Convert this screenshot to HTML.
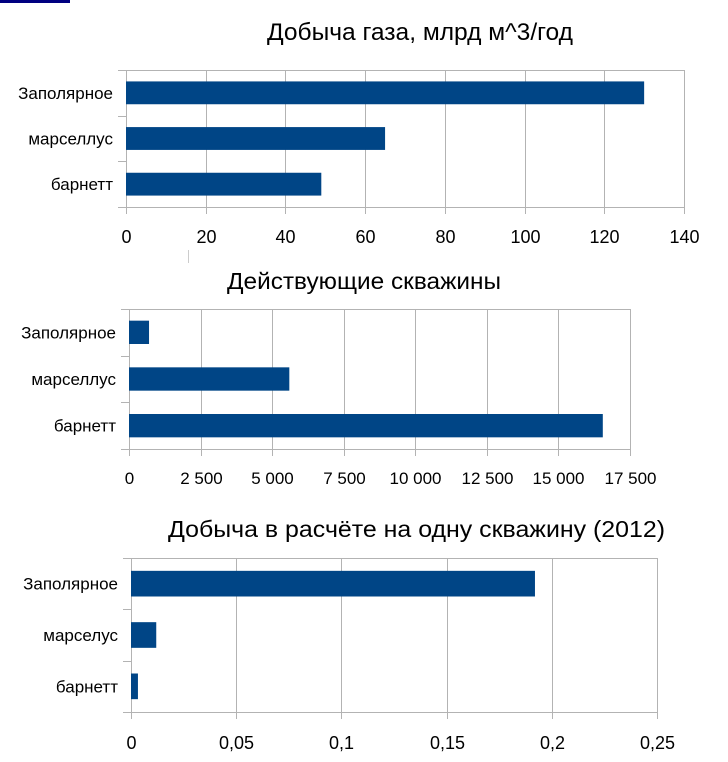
<!DOCTYPE html>
<html><head><meta charset="utf-8"><style>
html,body{margin:0;padding:0;background:#fff;}
svg{display:block;font-family:"Liberation Sans","DejaVu Sans",sans-serif;}
</style></head><body>
<svg id="root" width="728" height="762" viewBox="0 0 728 762">
<rect x="0" y="0" width="70" height="3" fill="#000080"/>
<line x1="188.5" y1="250" x2="188.5" y2="263" stroke="#ccc"/>
</svg>
<script>
const categories = ["Заполярное", "марселлус", "барнетт"];
const categories3 = ["Заполярное", "марселус", "барнетт"];
const gasValues = [130, 65, 49];
const gasTicks = ["0","20","40","60","80","100","120","140"];
const wellValues = [700, 5600, 16550];
const wellTicks = ["0","2 500","5 000","7 500","10 000","12 500","15 000","17 500"];
const perWellValues = [0.192, 0.012, 0.0033];
const perWellTicks = ["0","0,05","0,1","0,15","0,2","0,25"];
const titles = ["Добыча газа, млрд м^3/год", "Действующие скважины", "Добыча в расчёте на одну скважину (2012)"];

const NS = "http://www.w3.org/2000/svg";
const root = document.getElementById("root");
function mk(tag, attrs, parent) {
  const e = document.createElementNS(NS, tag);
  for (const k in attrs) e.setAttribute(k, attrs[k]);
  (parent || root).appendChild(e);
  return e;
}
function chart(cfg, id) {
  const g = mk("g", {});
  
  
  const n = cfg.ticks.length - 1;
  const xs = v => cfg.x0 + (v / cfg.max) * (cfg.x1 - cfg.x0);
  const rowH = (cfg.y1 - cfg.y0) / cfg.cats.length;
  const t = mk("text", {x: cfg.tx, y: cfg.ty, "font-size": cfg.tfs, textLength: cfg.tw, lengthAdjust: "spacingAndGlyphs", fill: "#000"}, g);
  t.textContent = cfg.title;
  
  
  for (let i = 0; i <= n; i++) {
    const x = Math.round(cfg.x0 + i * (cfg.x1 - cfg.x0) / n) + 0.5;
    const gl = mk("line", {x1: x, y1: cfg.y0, x2: x, y2: cfg.y1 + 7, stroke: "#b3b3b3", "stroke-width": 1}, g);
    
    
    const tl = mk("text", {x: x, y: cfg.lb, "font-size": cfg.lfs, "text-anchor": "middle", fill: "#000"}, g);
    tl.textContent = cfg.ticks[i];
    
    
  }
  for (let j = 0; j <= cfg.cats.length; j++) {
    const y = Math.round(cfg.y0 + j * rowH) + 0.5;
    const hl = mk("line", {x1: cfg.x0 - 8, y1: y, x2: j === 0 || j === cfg.cats.length ? cfg.x1 : cfg.x0, y2: y, stroke: "#b3b3b3"}, g);
    
    
  }
  cfg.cats.forEach((c, j) => {
    const cy = cfg.y0 + (j + 0.5) * rowH;
    const bh = rowH * 0.5;
    const b = mk("rect", {x: cfg.x0, y: cy - bh / 2, width: xs(cfg.vals[j]) - cfg.x0, height: bh, fill: "#004586"}, g);
    
    
    const l = mk("text", {x: cfg.x0 - 13, y: cy + 6, "font-size": 17, "text-anchor": "end", fill: "#000"}, g);
    l.textContent = c;
    
    
  });
}
chart({title: titles[0], tx: 267, ty: 40, tfs: 24, tw: 306, x0: 126, x1: 684, y0: 70, y1: 207, max: 140, ticks: gasTicks, vals: gasValues, cats: categories, lb: 243, lfs: 18}, "gas-production");
chart({title: titles[1], tx: 227, ty: 289, tfs: 23, tw: 274, x0: 129, x1: 630, y0: 309, y1: 449, max: 17500, ticks: wellTicks, vals: wellValues, cats: categories, lb: 484, lfs: 17}, "active-wells");
chart({title: titles[2], tx: 168, ty: 537, tfs: 23, tw: 497, x0: 131, x1: 657, y0: 558, y1: 712, max: 0.25, ticks: perWellTicks, vals: perWellValues, cats: categories3, lb: 749, lfs: 18}, "per-well");
</script>
</body></html>
